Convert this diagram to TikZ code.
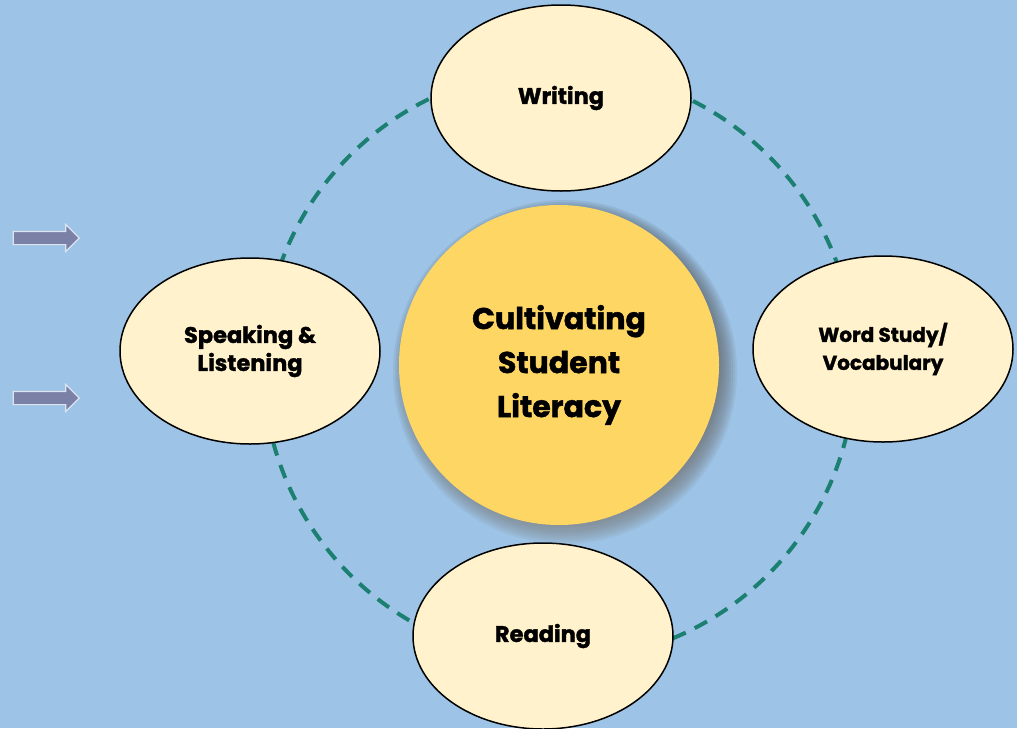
\documentclass[tikz,border=0pt]{standalone}
\usepackage{fontspec}
\setmainfont{Poppins}[BoldFont={* Bold}, BoldFeatures={FakeBold=1.5}]
\usetikzlibrary{shapes.geometric,shapes.arrows}

\definecolor{bgblue}{HTML}{9DC3E6}
\definecolor{petal}{HTML}{FFF2CC}
\definecolor{hub}{HTML}{FDD663}
\definecolor{ringteal}{HTML}{1B7F72}
\definecolor{pointer}{HTML}{7A80A6}
\definecolor{pointeredge}{HTML}{DCE4F0}
\definecolor{shade}{HTML}{2A3A50}

\tikzset{
  petalnode/.style={ellipse, draw=black, line width=1.5pt, fill=petal,
    minimum width=260pt, minimum height=186pt, inner sep=0pt,
    align=center, font=\bfseries\fontsize{22.5}{28}\selectfont},
  hubnode/.style={circle, fill=hub, minimum size=320pt, inner sep=0pt,
    align=center, font=\bfseries\fontsize{30}{44}\selectfont},
  ring/.style={draw=ringteal, line width=4pt, dash pattern=on 14pt off 10pt},
  pointernode/.style={single arrow, fill=pointer, draw=pointeredge,
    line width=1.2pt, minimum height=66pt, inner xsep=0pt, inner ysep=6pt,
    single arrow head extend=7pt, single arrow head indent=0pt,
    shape border rotate=0}
}

\begin{document}
\begin{tikzpicture}[x=1pt, y=-1pt]
  % canvas
  \fill[bgblue] (0,0) rectangle (1017,728);
  \useasboundingbox (0,0) rectangle (1017,728);
  \clip (0,0) rectangle (1017,728);

  % dashed ring linking the four petals
  \coordinate (ringc) at (559,365);
  \draw[ring] (ringc) circle[radius=296pt];

  % side pointers
  \node[pointernode] (ptrA) at (43,238) {};
  \node[pointernode] (ptrB) at (43,398) {};

  % petals
  \node[petalnode] (writing) at (561,98) {Writing};
  \node[petalnode] (words) at (883,349) {\fontsize{20}{26}\selectfont Word Study/\\\fontsize{20}{26}\selectfont Vocabulary};
  \node[petalnode] (reading) at (543,636) {Reading};
  \node[petalnode] (speaking) at (250,351) {Speaking \&\\Listening};

  % soft shadow under the hub, offset down and right
  \coordinate (shadowc) at (565,372);
  \foreach \r in {172,170,...,150}
    \fill[shade, opacity=0.05] (shadowc) circle[radius=\r pt];

  % hub
  \node[hubnode] (hub) at (ringc) {Cultivating\\Student\\Literacy};
\end{tikzpicture}
\end{document}
